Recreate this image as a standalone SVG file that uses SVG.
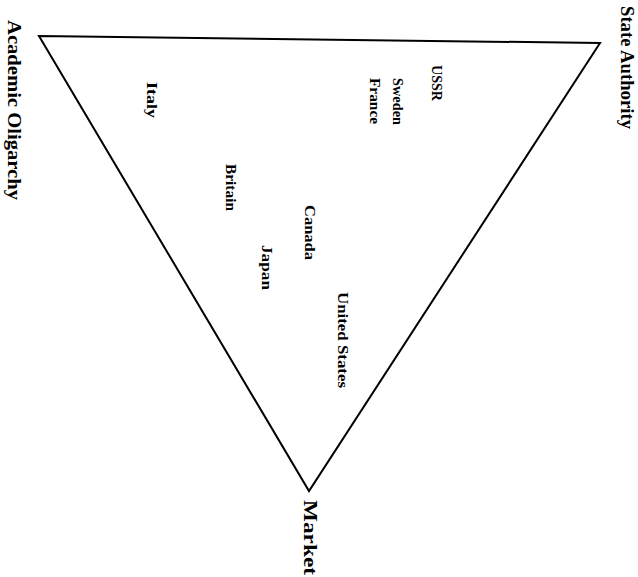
<svg xmlns="http://www.w3.org/2000/svg" width="638" height="577" viewBox="0 0 638 577">
<style>
.lbl{font-family:"Liberation Serif","Times New Roman",serif;font-weight:bold;fill:#000}
.big{font-size:18px}
.sm{font-size:14px}
.edge{fill:none;stroke:#000;stroke-width:2;stroke-linejoin:miter}
</style>
<rect width="638" height="577" fill="#fff"/>
<g id="connectors">
<polygon class="edge" points="39,36 600,43 309,491"/>
</g>
<g id="state-authority"><text class="lbl big" transform="translate(621,6) rotate(90)" textLength="123" lengthAdjust="spacingAndGlyphs">State Authority</text></g>
<g id="academic-oligarchy"><text class="lbl big" transform="translate(8,20) rotate(90)" textLength="180" lengthAdjust="spacingAndGlyphs">Academic Oligarchy</text></g>
<g id="market"><text class="lbl big" transform="translate(304,500) rotate(90)" textLength="75" lengthAdjust="spacingAndGlyphs">Market</text></g>
<g id="ussr"><text class="lbl sm" transform="translate(432,65) rotate(90)" textLength="36" lengthAdjust="spacingAndGlyphs">USSR</text></g>
<g id="sweden"><text class="lbl sm" transform="translate(393,78) rotate(90)" textLength="47" lengthAdjust="spacingAndGlyphs">Sweden</text></g>
<g id="france"><text class="lbl sm" transform="translate(370,78) rotate(90)" textLength="46" lengthAdjust="spacingAndGlyphs">France</text></g>
<g id="italy"><text class="lbl sm" transform="translate(147,82) rotate(90)" textLength="36" lengthAdjust="spacingAndGlyphs">Italy</text></g>
<g id="britain"><text class="lbl sm" transform="translate(226,164) rotate(90)" textLength="47" lengthAdjust="spacingAndGlyphs">Britain</text></g>
<g id="canada"><text class="lbl sm" transform="translate(305,205) rotate(90)" textLength="55" lengthAdjust="spacingAndGlyphs">Canada</text></g>
<g id="japan"><text class="lbl sm" transform="translate(262,245) rotate(90)" textLength="45" lengthAdjust="spacingAndGlyphs">Japan</text></g>
<g id="united-states"><text class="lbl sm" transform="translate(338,292) rotate(90)" textLength="96" lengthAdjust="spacingAndGlyphs">United States</text></g>
</svg>
